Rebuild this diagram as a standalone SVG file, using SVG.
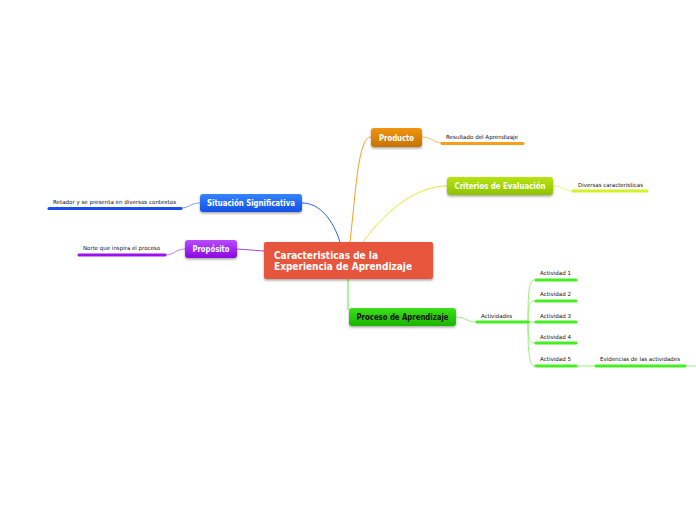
<svg xmlns="http://www.w3.org/2000/svg" width="696" height="520" viewBox="0 0 696 520">
<defs>
<filter id="sh" x="-20%" y="-30%" width="140%" height="170%">
<feDropShadow dx="0" dy="1.5" stdDeviation="1.2" flood-color="#000" flood-opacity="0.35"/>
</filter>
<linearGradient id="gO" x1="0" y1="0" x2="0" y2="1"><stop offset="0" stop-color="#F09510"/><stop offset="1" stop-color="#C87200"/></linearGradient>
<linearGradient id="gY" x1="0" y1="0" x2="0" y2="1"><stop offset="0" stop-color="#B8E410"/><stop offset="1" stop-color="#8CC200"/></linearGradient>
<linearGradient id="gB" x1="0" y1="0" x2="0" y2="1"><stop offset="0" stop-color="#3584FF"/><stop offset="1" stop-color="#1150E6"/></linearGradient>
<linearGradient id="gP" x1="0" y1="0" x2="0" y2="1"><stop offset="0" stop-color="#B84CFF"/><stop offset="1" stop-color="#8A08E0"/></linearGradient>
<linearGradient id="gG" x1="0" y1="0" x2="0" y2="1"><stop offset="0" stop-color="#3CE018"/><stop offset="1" stop-color="#1AB400"/></linearGradient>
</defs>
<style>
.n{font-family:"DejaVu Sans","Liberation Sans",sans-serif;font-weight:bold;font-size:8px;fill:#fff}
.c{font-family:"DejaVu Sans","Liberation Sans",sans-serif;font-weight:bold;font-size:10px;fill:#fff}
.s{font-family:"DejaVu Sans","Liberation Sans",sans-serif;font-size:5.6px;fill:#111}
.u{fill:none;stroke-width:3;stroke-linecap:round}
.t{fill:none;stroke-width:1}
</style>
<g id="connectors">
<path class="t" d="M340,242 C333,220 320,203 302,203" stroke="#2A5FF5" stroke-width="1.6"/>
<path class="t" d="M350,242 C356,190 358,137 371,137" stroke="#F5A01A" stroke-width="2"/>
<path class="t" d="M363,242 C390,205 420,186 447,186" stroke="#D8F030" stroke-width="1.6"/>
<path class="t" d="M348,279 L348,310" stroke="#55EE33" stroke-width="2"/>
<path class="t" d="M237,249 L264,251" stroke="#B040F0" stroke-width="1.5"/>
<path class="t" d="M422,137 C432,137 434,143 442,143" stroke="#F8C060"/>
<path class="t" d="M553,186 C563,186 565,191 573,191" stroke="#E2F480"/>
<path class="t" d="M200,203 C190,203 190,208 181,208" stroke="#7FA0F8"/>
<path class="t" d="M185,249 C175,249 175,255 165,255" stroke="#C880F8"/>
<path class="t" d="M456,317 C466,317 466,322 476,322" stroke="#99F080"/>
<path class="t" d="M528,322 C528,290 529,280 535,280" stroke="#99F080"/>
<path class="t" d="M528,322 C528,306 529,301 535,301" stroke="#99F080"/>
<path class="t" d="M528,322 L535,322" stroke="#99F080"/>
<path class="t" d="M528,322 C528,338 529,343 535,343" stroke="#99F080"/>
<path class="t" d="M528,322 C528,354 529,366 535,366" stroke="#99F080"/>
<path class="t" d="M576,366 L595,366" stroke="#99F080"/>
<path class="t" d="M685,366 L696,366" stroke="#99F080"/>
<line class="u" x1="442" y1="143.5" x2="523" y2="143.5" stroke="#F5A01A"/>
<line class="u" x1="573" y1="191" x2="647" y2="191" stroke="#D4F028"/>
<line class="u" x1="49" y1="208.5" x2="181" y2="208.5" stroke="#1A4EF0"/>
<line class="u" x1="79" y1="255" x2="165" y2="255" stroke="#9A10F0"/>
<line class="u" x1="477" y1="322" x2="528" y2="322" stroke="#44EE22"/>
<line class="u" x1="536" y1="280" x2="576" y2="280" stroke="#44EE22"/>
<line class="u" x1="536" y1="301" x2="576" y2="301" stroke="#44EE22"/>
<line class="u" x1="536" y1="322" x2="576" y2="322" stroke="#44EE22"/>
<line class="u" x1="536" y1="343" x2="576" y2="343" stroke="#44EE22"/>
<line class="u" x1="536" y1="366" x2="576" y2="366" stroke="#44EE22"/>
<line class="u" x1="596" y1="366" x2="685" y2="366" stroke="#44EE22"/>
</g>
<g id="central">
<rect x="264" y="242" width="169" height="37" rx="2" fill="#E8553C" filter="url(#sh)"/>
<text class="c" x="274" y="259" textLength="104" lengthAdjust="spacingAndGlyphs">Caracteristicas de la</text>
<text class="c" x="274" y="270" textLength="138" lengthAdjust="spacingAndGlyphs">Experiencia de Aprendizaje</text>
</g>
<g id="producto">
<rect x="371" y="128" width="51" height="19" rx="3" fill="url(#gO)" filter="url(#sh)"/>
<text class="n" x="396.5" y="140.5" text-anchor="middle" textLength="35" lengthAdjust="spacingAndGlyphs">Producto</text>
</g>
<g id="resultado"><text class="s" x="446" y="139" textLength="72" lengthAdjust="spacingAndGlyphs">Resultado del Aprendizaje</text></g>
<g id="criterios">
<rect x="447" y="177" width="106" height="18" rx="3" fill="url(#gY)" filter="url(#sh)"/>
<text class="n" x="500" y="189" text-anchor="middle" textLength="91" lengthAdjust="spacingAndGlyphs">Criterios de Evaluación</text>
</g>
<g id="diversas"><text class="s" x="578" y="187" textLength="65" lengthAdjust="spacingAndGlyphs">Diversas caracteristicas</text></g>
<g id="situacion">
<rect x="200" y="194" width="102" height="18" rx="3" fill="url(#gB)" filter="url(#sh)"/>
<text class="n" x="251" y="206" text-anchor="middle" textLength="88" lengthAdjust="spacingAndGlyphs">Situación Significativa</text>
</g>
<g id="retador"><text class="s" x="53" y="204" textLength="123" lengthAdjust="spacingAndGlyphs">Retador y se presenta en diversos contextos</text></g>
<g id="proposito">
<rect x="185" y="240" width="52" height="18" rx="3" fill="url(#gP)" filter="url(#sh)"/>
<text class="n" x="211" y="252" text-anchor="middle" textLength="37" lengthAdjust="spacingAndGlyphs">Propósito</text>
</g>
<g id="norte"><text class="s" x="83" y="250" textLength="77" lengthAdjust="spacingAndGlyphs">Norte que inspira el proceso</text></g>
<g id="proceso">
<rect x="349" y="308" width="107" height="18" rx="3" fill="url(#gG)" filter="url(#sh)"/>
<text class="n" x="402.5" y="320" text-anchor="middle" textLength="92" lengthAdjust="spacingAndGlyphs" style="fill:#111">Proceso de Aprendizaje</text>
</g>
<g id="actividades"><text class="s" x="481" y="318" textLength="31" lengthAdjust="spacingAndGlyphs">Actividades</text></g>
<g id="act1"><text class="s" x="540" y="275" textLength="31" lengthAdjust="spacingAndGlyphs">Actividad 1</text></g>
<g id="act2"><text class="s" x="540" y="296" textLength="31" lengthAdjust="spacingAndGlyphs">Actividad 2</text></g>
<g id="act3"><text class="s" x="540" y="318" textLength="31" lengthAdjust="spacingAndGlyphs">Actividad 3</text></g>
<g id="act4"><text class="s" x="540" y="339" textLength="31" lengthAdjust="spacingAndGlyphs">Actividad 4</text></g>
<g id="act5"><text class="s" x="540" y="361" textLength="31" lengthAdjust="spacingAndGlyphs">Actividad 5</text></g>
<g id="evidencias"><text class="s" x="600" y="361" textLength="80" lengthAdjust="spacingAndGlyphs">Evidencias de las actividades</text></g>
</svg>
